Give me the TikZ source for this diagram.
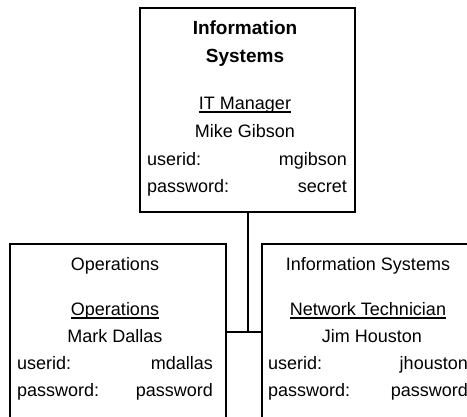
\documentclass[tikz,border=0pt]{standalone}
\usepackage{fontspec}
\setmainfont{Liberation Sans}
\newcommand\myul[1]{\setbox0\hbox{#1}\rlap{\rule[-2.6pt]{\wd0}{1.1pt}}\box0}
\begin{document}
\begin{tikzpicture}[x=1pt,y=-1pt,
  box/.style={draw=black, line width=1.8pt, rectangle, anchor=north west, inner sep=0pt, outer sep=0pt},
  txt/.style={font=\fontsize{18}{20}\selectfont, inner sep=0pt, text=black},
  txtb/.style={font=\fontsize{19}{21}\selectfont\bfseries, inner sep=0pt, text=black},
  conn/.style={draw=black, line width=1.8pt}]
\useasboundingbox (0,0) rectangle (467,417);
\clip (0,0) rectangle (467,417);
% boxes
\node[box, minimum width=215pt, minimum height=204pt] (top) at (140,8) {};
\node[box, minimum width=216pt, minimum height=176pt] (ops) at (10,244) {};
\node[box, minimum width=212pt, minimum height=176pt] (isys) at (262,244) {};
% connectors
\coordinate (jn) at ([xshift=0.5pt]top.south);
\draw[conn] (jn) -- (jn |- ops.east);
\draw[conn] (ops.east) -- (isys.west);
% top box text
\node[txtb, anchor=base] (t1) at (245,35) {Information};
\node[txtb, anchor=base] (t2) at (245,63) {Systems};
\node[txt, anchor=base] (t3) at (245,110) {\myul{IT Manager}};
\node[txt, anchor=base] (t4) at (245,138) {Mike Gibson};
\node[txt, anchor=base west] (t5) at (147,166) {userid:};
\node[txt, anchor=base east] (t6) at (347,166) {mgibson};
\node[txt, anchor=base west] (t7) at (147,193) {password:};
\node[txt, anchor=base east] (t8) at (347,193) {secret};
% left box text
\node[txt, anchor=base] (o1) at (115,271) {Operations};
\node[txt, anchor=base] (o2) at (115,316) {\myul{Operations}};
\node[txt, anchor=base] (o3) at (115,343) {Mark Dallas};
\node[txt, anchor=base west] (o4) at (17,370) {userid:};
\node[txt, anchor=base east] (o5) at (213,370) {mdallas};
\node[txt, anchor=base west] (o6) at (17,397) {password:};
\node[txt, anchor=base east] (o7) at (213,397) {password};
% right box text
\node[txt, anchor=base] (i1) at (368,271) {Information Systems};
\node[txt, anchor=base] (i2) at (368,316) {\myul{Network Technician}};
\node[txt, anchor=base] (i3) at (372,343) {Jim Houston};
\node[txt, anchor=base west] (i4) at (268,370) {userid:};
\node[txt, anchor=base east] (i5) at (468,370) {jhouston};
\node[txt, anchor=base west] (i6) at (268,397) {password:};
\node[txt, anchor=base east] (i7) at (468,397) {password};
\end{tikzpicture}
\end{document}
